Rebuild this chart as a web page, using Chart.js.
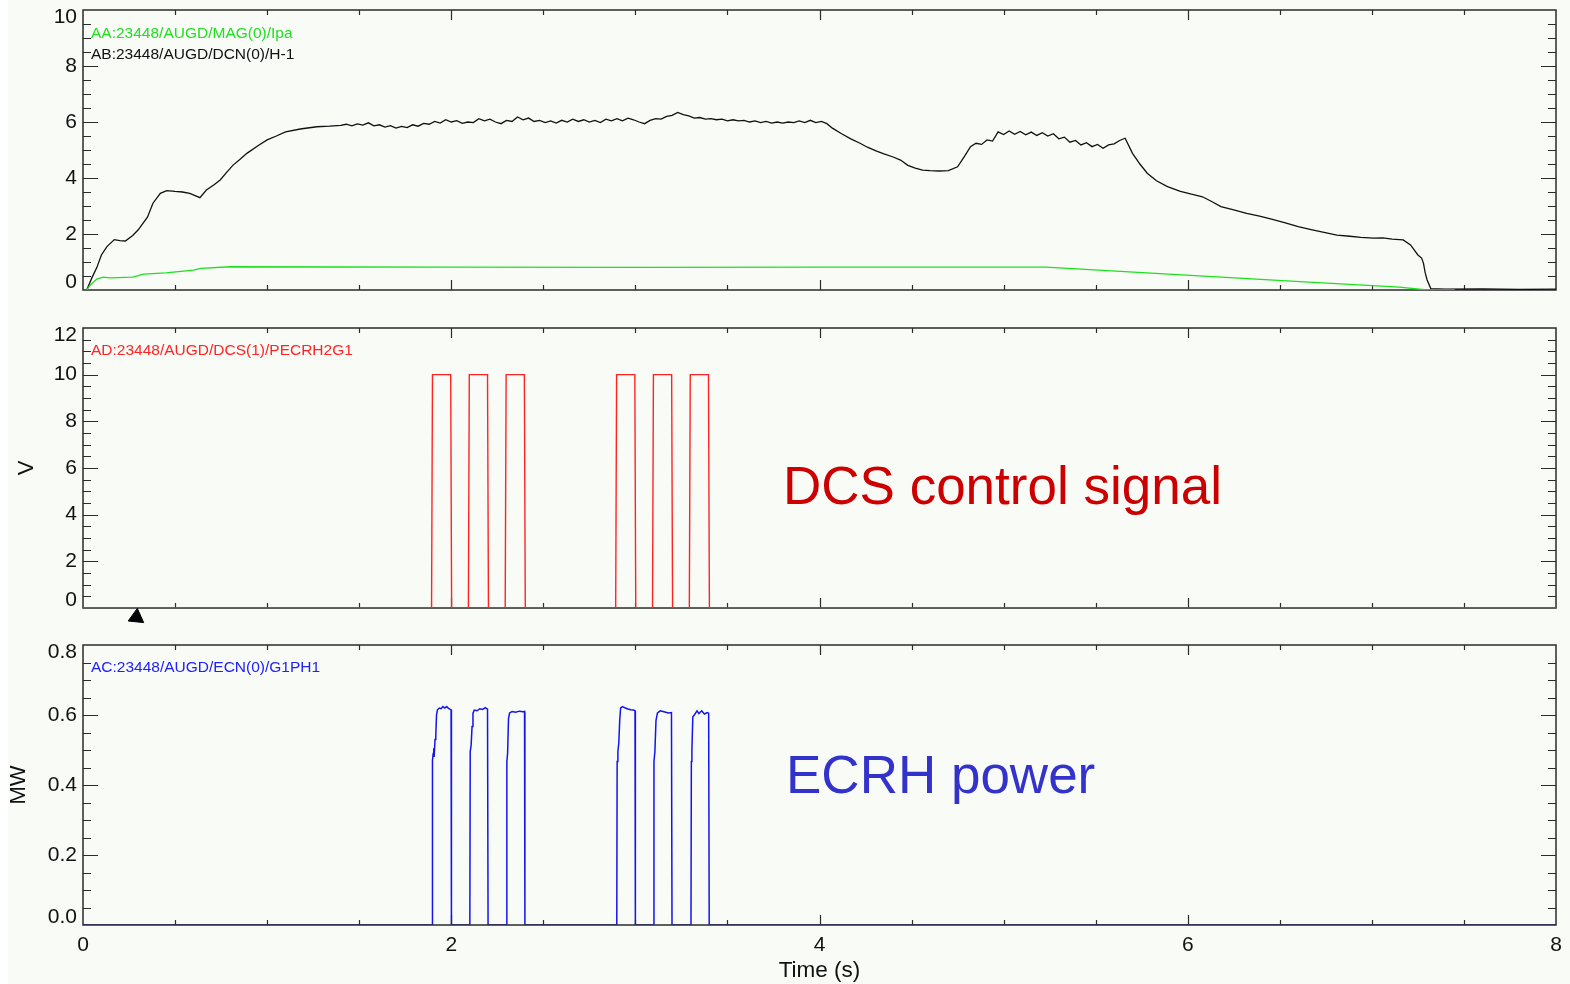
<!DOCTYPE html>
<html>
<head>
<meta charset="utf-8">
<script src="https://cdn.jsdelivr.net/npm/chart.js@4.4.0/dist/chart.umd.min.js"></script>
<style>
  html, body { margin: 0; padding: 0; background: #ffffff; }
  #page { position: absolute; left: 8px; top: 0; width: 1562px; height: 984px; background: #f9fbf7; }
  canvas { position: absolute; left: 0; }
</style>
</head>
<body>
<div id="page"></div>
<canvas id="c1" width="1570" height="300" style="top:0px"></canvas>
<canvas id="c2" width="1570" height="320" style="top:318px"></canvas>
<canvas id="c3" width="1570" height="349" style="top:635px"></canvas>
<script>
// H-1 line density (DCN)
const h1Time = [0.02, 0.05, 0.075, 0.10, 0.13, 0.17, 0.20, 0.23, 0.27, 0.30, 0.35, 0.38, 0.42, 0.455, 0.50, 0.54, 0.58, 0.635,
  0.67, 0.71, 0.745, 0.78, 0.815, 0.85, 0.89, 0.95, 1.00, 1.05, 1.10, 1.18, 1.27, 1.34,
  1.40, 1.43, 1.46, 1.49, 1.52, 1.55, 1.58, 1.61, 1.64, 1.67, 1.70, 1.73, 1.76, 1.79, 1.82, 1.85, 1.88, 1.91, 1.94, 1.97,
  2.00, 2.03, 2.06, 2.09, 2.12, 2.15, 2.18, 2.21, 2.24, 2.27, 2.30, 2.33, 2.36, 2.39, 2.42, 2.45, 2.48, 2.51, 2.54, 2.57,
  2.60, 2.63, 2.66, 2.69, 2.72, 2.75, 2.78, 2.81, 2.84, 2.87, 2.90, 2.93, 2.96, 2.99, 3.02, 3.05, 3.08, 3.11, 3.14, 3.17,
  3.20, 3.23, 3.26, 3.29, 3.32, 3.35, 3.38, 3.41, 3.44, 3.47, 3.50, 3.53, 3.56, 3.59, 3.62, 3.65, 3.68, 3.71, 3.74, 3.77,
  3.80, 3.83, 3.86, 3.89, 3.92, 3.95, 3.98, 4.01, 4.04, 4.07, 4.12, 4.17, 4.22, 4.26, 4.31, 4.35, 4.40, 4.44, 4.48, 4.52,
  4.56, 4.60, 4.65, 4.70, 4.75, 4.79, 4.82, 4.85, 4.88, 4.91, 4.94, 4.97, 5.00, 5.03, 5.06, 5.09, 5.12, 5.15, 5.18, 5.21,
  5.24, 5.27, 5.30, 5.33, 5.36, 5.39, 5.42, 5.45, 5.48, 5.51, 5.54, 5.57, 5.60, 5.63, 5.66, 5.70, 5.74, 5.78, 5.83, 5.89,
  5.96, 6.02, 6.08, 6.13, 6.18, 6.25, 6.32, 6.39, 6.46, 6.53, 6.60, 6.67, 6.74, 6.81, 6.88, 6.94, 7.01, 7.06, 7.11, 7.17,
  7.21, 7.25, 7.27, 7.28, 7.29, 7.30, 7.32, 7.40, 7.60, 7.80, 8.00];
const h1Values = [0.00, 0.46, 0.80, 1.25, 1.55, 1.80, 1.76, 1.75, 1.95, 2.15, 2.60, 3.10, 3.45, 3.55, 3.52, 3.50, 3.45, 3.30,
  3.57, 3.75, 3.93, 4.20, 4.46, 4.65, 4.88, 5.15, 5.36, 5.50, 5.65, 5.75, 5.83, 5.85,
  5.88, 5.92, 5.86, 5.93, 5.89, 5.97, 5.86, 5.90, 5.82, 5.87, 5.78, 5.84, 5.80, 5.90, 5.85, 5.95, 5.92, 6.02, 5.96, 6.08,
  6.00, 6.05, 5.95, 6.00, 5.98, 6.12, 6.04, 6.10, 6.00, 5.94, 6.06, 6.02, 6.18, 6.08, 6.14, 6.02, 6.06, 5.98, 6.04, 5.96,
  6.06, 6.00, 6.10, 6.02, 6.08, 6.00, 6.06, 5.98, 6.10, 6.04, 6.12, 6.04, 6.14, 6.08, 6.00, 5.94, 6.06, 6.12, 6.10, 6.20,
  6.24, 6.34, 6.26, 6.22, 6.14, 6.16, 6.10, 6.12, 6.08, 6.10, 6.04, 6.08, 6.04, 6.06, 6.00, 6.04, 5.98, 6.02, 5.96, 6.00,
  5.96, 6.00, 5.98, 6.04, 5.98, 6.06, 5.98, 6.02, 5.94, 5.78, 5.58, 5.40, 5.24, 5.10, 4.96, 4.86, 4.75, 4.64, 4.45, 4.35,
  4.28, 4.26, 4.25, 4.26, 4.40, 4.80, 5.12, 5.24, 5.20, 5.36, 5.32, 5.65, 5.55, 5.68, 5.56, 5.66, 5.54, 5.64, 5.52, 5.62,
  5.50, 5.58, 5.40, 5.46, 5.28, 5.34, 5.18, 5.26, 5.12, 5.20, 5.06, 5.18, 5.22, 5.34, 5.42, 4.88, 4.50, 4.17, 3.90, 3.69,
  3.52, 3.42, 3.33, 3.16, 2.98, 2.86, 2.74, 2.64, 2.52, 2.40, 2.26, 2.16, 2.06, 1.96, 1.92, 1.88, 1.85, 1.86, 1.82, 1.79,
  1.61, 1.25, 1.14, 0.96, 0.60, 0.36, 0.05, 0.03, 0.04, 0.02, 0.03];

// plasma current Ipa
const ipaTime = [0.02, 0.04, 0.075, 0.11, 0.15, 0.27, 0.33, 0.45, 0.60, 0.64, 0.80, 2.00, 3.00, 4.00, 5.23, 6.61, 7.15, 7.30, 7.45];
const ipaValues = [0.00, 0.18, 0.39, 0.46, 0.43, 0.46, 0.57, 0.61, 0.71, 0.77, 0.83, 0.82, 0.81, 0.82, 0.82, 0.30, 0.10, 0.00, 0.00];

// DCS control signal (V)
const dcsTime = [0, 1.893, 1.898, 1.997, 2.002, 2.093, 2.098, 2.197, 2.202, 2.293, 2.298, 2.397, 2.402,
  2.893, 2.898, 2.997, 3.002, 3.093, 3.098, 3.197, 3.202, 3.293, 3.298, 3.397, 3.402, 8];
const dcsValues = [0, 0, 10, 10, 0, 0, 10, 10, 0, 0, 10, 10, 0, 0, 10, 10, 0, 0, 10, 10, 0, 0, 10, 10, 0, 0];

// ECRH gyrotron power (MW)
const ecrhTime = [0, 1.896, 1.898, 1.902, 1.905, 1.907, 1.912, 1.916, 1.920, 1.925, 1.935, 1.945, 1.955, 1.965, 1.975, 1.985, 1.995, 1.999, 2.001,
  2.101, 2.103, 2.108, 2.113, 2.118, 2.125, 2.140, 2.155, 2.170, 2.185, 2.197, 2.200,
  2.300, 2.302, 2.306, 2.311, 2.317, 2.330, 2.350, 2.370, 2.390, 2.398, 2.400,
  2.899, 2.901, 2.905, 2.910, 2.915, 2.920, 2.930, 2.945, 2.960, 2.975, 2.990, 2.998, 3.000,
  3.099, 3.101, 3.106, 3.112, 3.120, 3.135, 3.150, 3.165, 3.180, 3.196, 3.199,
  3.302, 3.304, 3.307, 3.312, 3.320, 3.335, 3.345, 3.360, 3.375, 3.390, 3.398, 3.401, 8];
const ecrhValues = [0, 0, 0.470, 0.490, 0.505, 0.480, 0.530, 0.540, 0.600, 0.615, 0.620, 0.618, 0.624, 0.620, 0.624, 0.619, 0.616, 0.615, 0,
  0, 0.495, 0.514, 0.567, 0.605, 0.614, 0.612, 0.618, 0.616, 0.621, 0.617, 0,
  0, 0.467, 0.490, 0.590, 0.606, 0.610, 0.608, 0.611, 0.609, 0.610, 0,
  0, 0.467, 0.495, 0.520, 0.585, 0.620, 0.624, 0.620, 0.617, 0.615, 0.614, 0.612, 0,
  0, 0.467, 0.495, 0.585, 0.606, 0.612, 0.610, 0.608, 0.606, 0.607, 0,
  0, 0.467, 0.500, 0.595, 0.600, 0.612, 0.604, 0.612, 0.603, 0.607, 0.605, 0, 0];

// marker under the DCS panel
const markerTime = [0.29];
const markerValues = [-0.4];

const xTickLabels = [0, 2, 4, 6, 8];

const FONT = '"Liberation Sans", Arial, Helvetica, sans-serif';

const toPoints = (xs, ys) => xs.map((x, i) => ({x: x, y: ys[i]}));

// box round the plot with IDL style inward ticks on all four sides
function drawFrame(chart, opts) {
  const {ctx, chartArea: a, scales: {x, y}} = chart;
  ctx.save();
  ctx.strokeStyle = '#2b2b2b';
  ctx.lineWidth = 1.5;
  ctx.strokeRect(a.left, a.top, a.right - a.left, a.bottom - a.top);
  ctx.lineWidth = 1.2;
  ctx.beginPath();
  const ny = Math.round((y.max - y.min) / opts.yMinor);
  for (let i = 1; i < ny; i++) {
    const py = Math.round(y.getPixelForValue(y.min + i * opts.yMinor)) + 0.5;
    const len = i % 4 === 0 ? 15 : 8;
    ctx.moveTo(a.left, py); ctx.lineTo(a.left + len, py);
    ctx.moveTo(a.right, py); ctx.lineTo(a.right - len, py);
  }
  const nx = Math.round((x.max - x.min) / 0.5);
  for (let i = 1; i < nx; i++) {
    const px = Math.round(x.getPixelForValue(x.min + i * 0.5)) + 0.5;
    const len = i % 4 === 0 ? 10 : 5;
    ctx.moveTo(px, a.bottom); ctx.lineTo(px, a.bottom - len);
    ctx.moveTo(px, a.top); ctx.lineTo(px, a.top + len);
  }
  ctx.stroke();
  ctx.restore();
}

const framePlugin = {
  id: 'frame',
  beforeDatasetsDraw(chart, args, opts) { if (!opts.onTop) drawFrame(chart, opts); },
  afterDatasetsDraw(chart, args, opts) { if (opts.onTop) drawFrame(chart, opts); }
};

// signal names and the big captions
const textPlugin = {
  id: 'texts',
  afterDraw(chart, args, opts) {
    const ctx = chart.ctx;
    ctx.save();
    ctx.textBaseline = 'alphabetic';
    ctx.textAlign = 'left';
    (opts.items || []).forEach(t => {
      ctx.font = t.size + 'px ' + FONT;
      ctx.fillStyle = t.color;
      ctx.fillText(t.text, t.x, t.y);
    });
    ctx.restore();
  }
};

function yTicks(fmt, step) {
  return {
    color: '#111',
    padding: 6,
    stepSize: step,
    font: {family: FONT, size: 21, lineHeight: 0.7},
    // first and last labels are pulled inside the box, like IDL does
    callback: function (value, index, ticks) {
      const label = fmt(value);
      if (index === 0) return [label, ''];
      if (index === ticks.length - 1) return ['', label];
      return label;
    }
  };
}

function makeChart(id, datasets, opts) {
  const ctx = document.getElementById(id).getContext('2d');
  return new Chart(ctx, {
    type: 'line',
    data: {datasets: datasets},
    options: {
      responsive: false,
      animation: false,
      events: [],
      layout: {padding: {left: 0, right: 14, top: 10, bottom: opts.padBottom}},
      elements: {point: {radius: 0}, line: {tension: 0}},
      plugins: {
        legend: {display: false},
        tooltip: {enabled: false},
        frame: {yMinor: opts.yMinor, onTop: opts.frameOnTop},
        texts: {items: opts.texts}
      },
      scales: {
        x: {
          type: 'linear',
          min: 0,
          max: 8,
          display: opts.showX,
          afterFit: s => {
            if (opts.showX) s.height = 59;
            s.paddingLeft = 0; s.paddingRight = 0;
          },
          grid: {display: false, drawTicks: false},
          border: {display: false},
          afterBuildTicks: s => { s.ticks = xTickLabels.map(v => ({value: v})); },
          ticks: {color: '#111', padding: 8, font: {family: FONT, size: 21}},
          title: {display: true, text: 'Time (s)', color: '#111', padding: {top: 0, bottom: 0},
            font: {family: FONT, size: 22.5}}
        },
        y: {
          type: 'linear',
          min: opts.yMin,
          max: opts.yMax,
          afterFit: s => {
            s.width = 83;
            s.paddingTop = 0; s.paddingBottom = 0;
          },
          grid: {display: false, drawTicks: false},
          border: {display: false},
          ticks: yTicks(opts.fmt, opts.yStep),
          title: {display: !!opts.yTitle, text: opts.yTitle || '', color: '#111',
            padding: {top: opts.titlePad, bottom: 0}, font: {family: FONT, size: 22}}
        }
      }
    },
    plugins: [framePlugin, textPlugin]
  });
}

makeChart('c1', [
  {data: toPoints(ipaTime, ipaValues), borderColor: '#1fe01f', borderWidth: 1.3},
  {data: toPoints(h1Time, h1Values), borderColor: '#111111', borderWidth: 1.3}
], {
  yMin: 0, yMax: 10, yStep: 2, yMinor: 0.5, fmt: v => String(v), showX: false, padBottom: 10,
  frameOnTop: false,
  texts: [
    {text: 'AA:23448/AUGD/MAG(0)/Ipa', color: '#1fe01f', size: 15.5, x: 91, y: 37.5},
    {text: 'AB:23448/AUGD/DCN(0)/H-1', color: '#111111', size: 15.5, x: 91, y: 58.5}
  ]
});

makeChart('c2', [
  {data: toPoints(dcsTime, dcsValues), borderColor: '#ff2424', borderWidth: 1.4},
  {data: toPoints(markerTime, markerValues), showLine: false, clip: false, pointStyle: 'triangle',
    pointRadius: 9, pointRotation: 6, backgroundColor: '#000', borderColor: '#000', borderWidth: 1}
], {
  yMin: 0, yMax: 12, yStep: 2, yMinor: 0.5, fmt: v => String(v), showX: false, padBottom: 30,
  frameOnTop: false, yTitle: 'V', titlePad: 14,
  texts: [
    {text: 'AD:23448/AUGD/DCS(1)/PECRH2G1', color: '#ff2424', size: 15.5, x: 91, y: 36.5},
    {text: 'DCS control signal', color: '#cc0000', size: 53, x: 783, y: 186}
  ]
});

makeChart('c3', [
  {data: toPoints(ecrhTime, ecrhValues), borderColor: '#1414f0', borderWidth: 1.5}
], {
  yMin: 0, yMax: 0.8, yStep: 0.2, yMinor: 0.05, fmt: v => v.toFixed(1), showX: true, padBottom: 0,
  frameOnTop: true, yTitle: 'MW', titlePad: 6,
  texts: [
    {text: 'AC:23448/AUGD/ECN(0)/G1PH1', color: '#2020ff', size: 15.5, x: 91, y: 36.5},
    {text: 'ECRH power', color: '#3333cc', size: 53, x: 786, y: 158}
  ]
});
</script>
</body>
</html>
